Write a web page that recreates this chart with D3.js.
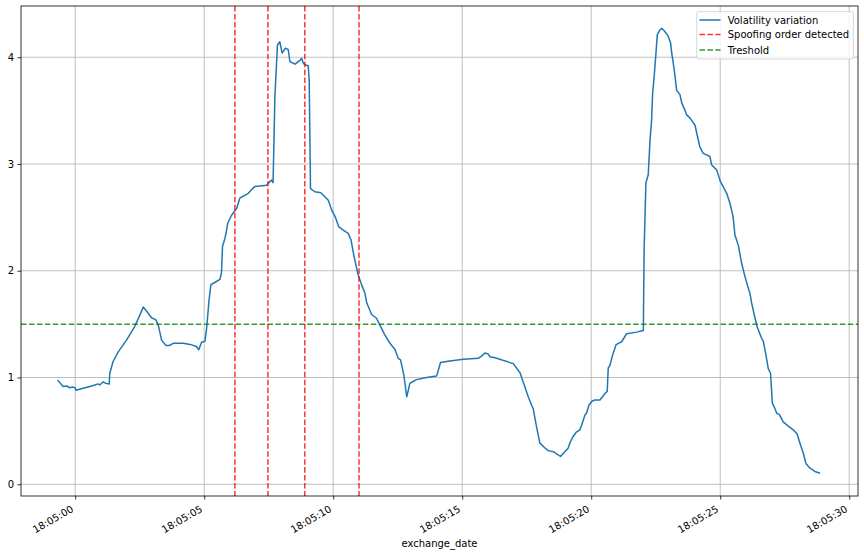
<!DOCTYPE html>
<html>
<head>
<meta charset="utf-8">
<script src="https://cdn.jsdelivr.net/npm/d3@7"></script>
<style>
  html, body { margin: 0; padding: 0; background: #fff; }
  svg { display: block; font-family: "DejaVu Sans", sans-serif; }
</style>
</head>
<body>
<svg id="chart" width="864" height="556"></svg>
<script>
// ---- data (seconds after 18:05:00, volatility value) ----
const seconds = [
  -0.66,-0.47,-0.31,-0.23,-0.10,0.0,0.03,0.31,0.64,0.89,0.95,1.09,1.19,1.32,1.34,1.47,1.67,1.99,2.31,2.48,
  2.64,2.77,2.96,3.13,3.22,3.35,3.52,3.65,3.80,4.19,4.45,4.70,4.79,4.90,5.03,5.09,5.19,5.26,5.41,5.61,
  5.67,5.71,5.80,5.87,5.91,6.06,6.26,6.38,6.71,6.84,6.97,7.42,7.55,7.61,7.67,7.74,7.84,7.93,8.02,8.15,
  8.26,8.32,8.52,8.71,8.78,8.84,8.90,9.03,9.07,9.12,9.29,9.52,9.61,9.81,9.94,10.07,10.22,10.39,10.58,10.69,
  10.81,10.97,11.10,11.23,11.30,11.49,11.68,11.81,12.0,12.2,12.39,12.52,12.61,12.74,12.85,12.91,12.97,13.08,13.23,13.62,
  14.01,14.16,14.52,15.04,15.62,15.75,15.88,16.01,16.07,16.27,16.98,17.24,17.36,17.56,17.69,17.75,17.88,18.01,18.21,18.33,
  18.53,18.66,18.81,18.94,19.11,19.17,19.28,19.41,19.56,19.63,19.76,19.82,19.91,20.02,20.14,20.34,20.44,20.53,20.62,20.66,
  20.72,20.83,20.96,21.05,21.18,21.37,21.76,22.02,22.05,22.12,22.21,22.28,22.34,22.38,22.44,22.51,22.56,22.66,22.73,22.82,
  22.98,23.08,23.12,23.18,23.25,23.31,23.44,23.51,23.63,23.70,23.83,24.02,24.15,24.21,24.34,24.6,24.67,24.86,25.01,25.25,
  25.38,25.50,25.57,25.70,25.83,25.96,26.09,26.15,26.22,26.35,26.43,26.60,26.67,26.76,26.86,26.95,27.02,27.12,27.19,27.29,
  27.44,27.64,27.83,27.98,28.09,28.22,28.32,28.48,28.67,28.84
];
const volatility = [
  0.97,0.915,0.92,0.905,0.91,0.905,0.88,0.90,0.92,0.94,0.93,0.96,0.945,0.94,1.04,1.15,1.24,1.35,1.48,1.57,
  1.66,1.62,1.56,1.54,1.49,1.35,1.30,1.30,1.32,1.32,1.31,1.29,1.26,1.33,1.34,1.45,1.73,1.87,1.89,1.92,
  1.98,2.23,2.30,2.38,2.445,2.52,2.585,2.68,2.725,2.76,2.79,2.80,2.835,2.85,2.825,3.63,4.115,4.145,4.04,4.085,
  4.07,3.96,3.935,3.97,3.99,3.945,3.93,3.92,3.79,2.77,2.74,2.73,2.71,2.66,2.57,2.51,2.41,2.38,2.35,2.29,
  2.13,1.96,1.87,1.79,1.70,1.59,1.555,1.49,1.40,1.32,1.265,1.18,1.165,1.02,0.82,0.88,0.945,0.96,0.98,1.00,
  1.015,1.14,1.155,1.17,1.18,1.20,1.23,1.22,1.195,1.185,1.13,1.045,0.96,0.82,0.74,0.71,0.54,0.385,0.34,0.315,
  0.305,0.285,0.26,0.295,0.34,0.385,0.44,0.485,0.51,0.555,0.65,0.665,0.74,0.775,0.79,0.79,0.82,0.85,0.87,1.09,
  1.11,1.21,1.305,1.32,1.335,1.41,1.425,1.44,2.195,2.825,2.90,3.225,3.41,3.66,3.82,4.04,4.21,4.255,4.27,4.25,
  4.20,4.13,4.04,3.945,3.82,3.69,3.65,3.57,3.505,3.46,3.43,3.365,3.225,3.16,3.10,3.07,2.99,2.945,2.835,2.725,
  2.63,2.505,2.335,2.24,2.07,1.945,1.835,1.79,1.695,1.555,1.475,1.37,1.34,1.225,1.085,1.04,0.76,0.71,0.665,0.655,
  0.585,0.545,0.51,0.47,0.385,0.29,0.195,0.15,0.12,0.105
];
const spoofSeconds = [6.19, 7.47, 8.90, 11.0];
const threshold = 1.5;
const xTickSeconds = [0, 5, 10, 15, 20, 25, 30];
const yTicks = [0, 1, 2, 3, 4];
const legendLabels = ["Volatility variation", "Spoofing order detected", "Treshold"];
const xLabel = "exchange_date";

(function () {
// ---- setup ----
const base = new Date(2021, 0, 1, 18, 5, 0);
const toDate = s => new Date(base.getTime() + s * 1000);
const data = seconds.map((s, i) => ({ t: toDate(s), v: volatility[i] }));

const pL = 21, pR = 858, pT = 6, pB = 496;
const svg = d3.select("#chart");

const x = d3.scaleTime().domain([toDate(-2.1), toDate(30.34)]).range([pL, pR]);
const y = d3.scaleLinear().domain([-0.11, 4.48]).range([pB, pT]);

const clr = { blue: "#1f77b4", red: "rgba(255,0,0,0.8)", green: "rgba(0,128,0,0.8)", grid: "#b0b0b0" };

// grid
const g = svg.append("g");
xTickSeconds.forEach(s => {
  g.append("line").attr("x1", x(toDate(s))).attr("x2", x(toDate(s)))
    .attr("y1", pT).attr("y2", pB).attr("stroke", clr.grid).attr("stroke-width", 0.8);
});
yTicks.forEach(v => {
  g.append("line").attr("x1", pL).attr("x2", pR)
    .attr("y1", y(v)).attr("y2", y(v)).attr("stroke", clr.grid).attr("stroke-width", 0.8);
});

// main line
const line = d3.line().x(d => x(d.t)).y(d => y(d.v));
svg.append("path").datum(data).attr("d", line)
  .attr("fill", "none").attr("stroke", clr.blue).attr("stroke-width", 1.5)
  .attr("stroke-linejoin", "round").attr("stroke-linecap", "square");

// spoofing lines
spoofSeconds.forEach(s => {
  svg.append("line").attr("x1", x(toDate(s))).attr("x2", x(toDate(s)))
    .attr("y1", pT).attr("y2", pB)
    .attr("stroke", clr.red).attr("stroke-width", 1.5).attr("stroke-dasharray", "5.55,2.4");
});
// threshold
svg.append("line").attr("x1", pL).attr("x2", pR)
  .attr("y1", y(threshold)).attr("y2", y(threshold))
  .attr("stroke", clr.green).attr("stroke-width", 1.5).attr("stroke-dasharray", "5.55,2.4");

// axes via d3
const xAxis = d3.axisBottom(x).tickValues(xTickSeconds.map(toDate))
  .tickFormat(d3.timeFormat("%H:%M:%S")).tickSize(3.5).tickPadding(3.5);
const xg = svg.append("g").attr("transform", `translate(0,${pB})`).call(xAxis);
xg.select(".domain").remove();
xg.selectAll(".tick line").attr("stroke", "#000").attr("stroke-width", 0.8);
xg.selectAll(".tick text")
  .attr("font-size", 10).attr("fill", "#000").attr("font-family", "DejaVu Sans")
  .attr("text-anchor", "end").attr("dy", null).attr("y", 0)
  .attr("transform", "translate(-1.5,15) rotate(-30)");

const yAxis = d3.axisLeft(y).tickValues(yTicks).tickFormat(d3.format("d")).tickSize(3.5).tickPadding(3.5);
const yg = svg.append("g").attr("transform", `translate(${pL},0)`).call(yAxis);
yg.select(".domain").remove();
yg.selectAll(".tick line").attr("stroke", "#000").attr("stroke-width", 0.8);
yg.selectAll(".tick text").attr("font-size", 10).attr("fill", "#000").attr("font-family", "DejaVu Sans");

// frame
svg.append("rect").attr("x", pL).attr("y", pT).attr("width", pR - pL).attr("height", pB - pT)
  .attr("fill", "none").attr("stroke", "#000").attr("stroke-width", 0.8);

// x label
svg.append("text").attr("x", (pL + pR) / 2).attr("y", 547).attr("text-anchor", "middle")
  .attr("font-size", 10).attr("fill", "#000").text(xLabel);

// legend
const lg = svg.append("g");
lg.append("rect").attr("x", 696.7).attr("y", 11.7).attr("width", 156.6).attr("height", 47.3)
  .attr("rx", 2).attr("fill", "rgba(255,255,255,0.8)").attr("stroke", "#cccccc").attr("stroke-width", 0.8);
const legendStyles = [
  { c: clr.blue, dash: null },
  { c: clr.red, dash: "5.55,2.4" },
  { c: clr.green, dash: "5.55,2.4" }
];
const rowY = [20, 34.5, 50];
legendLabels.forEach((lab, i) => {
  const l = lg.append("line").attr("x1", 699.5).attr("x2", 720.5).attr("y1", rowY[i]).attr("y2", rowY[i])
    .attr("stroke", legendStyles[i].c).attr("stroke-width", 1.5);
  if (legendStyles[i].dash) l.attr("stroke-dasharray", legendStyles[i].dash);
  lg.append("text").attr("x", 727.7).attr("y", rowY[i] + 3.6).attr("font-size", 10).attr("fill", "#000").text(lab);
});
})();
</script>
</body>
</html>
